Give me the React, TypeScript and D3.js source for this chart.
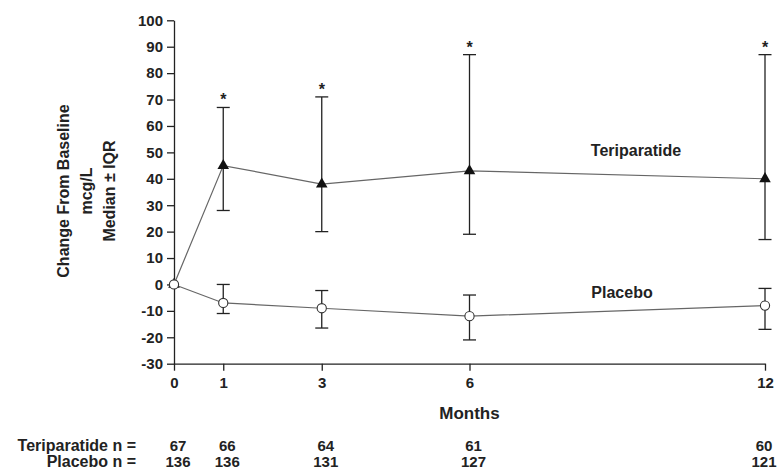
import { useRef, useEffect } from 'react';
import * as d3 from 'd3';

// Months of follow-up
const months = [0, 1, 3, 6, 12];

// Teriparatide: median and IQR (change from baseline, mcg/L)
const teriMedian = [0, 45, 38, 43, 40];
const teriLow = [null, 28, 20, 19, 17];
const teriHigh = [null, 67, 71, 87, 87];
const teriStar = [false, true, true, true, true];

// Placebo: median and IQR
const placeboMedian = [0, -7, -9, -12, -8];
const placeboLow = [null, -11, -16.5, -21, -17];
const placeboHigh = [null, 0, -2.3, -4, -1.5];

// Numbers of patients at each visit
const teriN = [67, 66, 64, 61, 60];
const placeboN = [136, 136, 131, 127, 121];

const yTicks = d3.range(-30, 101, 10);

const FONT = 'Arial, "Liberation Sans", Helvetica, sans-serif';

function App() {
    const svgRef = useRef<SVGSVGElement>(null);

    useEffect(() => {
        const width = 780;
        const height = 468;

        const x = d3.scaleLinear().domain([0, 12]).range([174, 765]);
        const y = d3.scaleLinear().domain([-30, 100]).range([363.7, 20.3]);

        const svg = d3.select(svgRef.current)
            .attr('width', width)
            .attr('height', height)
            .attr('viewBox', [0, 0, width, height].join(' '));

        svg.selectAll('*').remove();

        svg.append('rect').attr('width', width).attr('height', height).attr('fill', '#fff');

        //Axes (plain hyphen for negatives, as in the original)
        const yAxis = svg.append('g')
            .attr('transform', `translate(${x(0)},0)`)
            .call(d3.axisLeft(y).tickValues(yTicks).tickFormat(d => String(d))
                .tickSize(7).tickPadding(4).tickSizeOuter(0));

        const xAxis = svg.append('g')
            .attr('transform', `translate(0,${y(-30)})`)
            .call(d3.axisBottom(x).tickValues(months).tickFormat(d => String(d))
                .tickSize(7).tickPadding(7).tickSizeOuter(0));

        [yAxis, xAxis].forEach(a => {
            a.select('.domain').attr('stroke', '#222').attr('stroke-width', 1.3);
            a.selectAll('.tick line').attr('stroke', '#222').attr('stroke-width', 1.3);
            a.selectAll('.tick text')
                .attr('fill', '#222')
                .attr('font-family', FONT)
                .attr('font-weight', 'bold')
                .attr('font-size', 15);
        });

        //Axis titles
        svg.append('text')
            .attr('x', (x(0) + x(12)) / 2)
            .attr('y', 413)
            .attr('dominant-baseline', 'central')
            .attr('text-anchor', 'middle')
            .attr('font-family', FONT)
            .attr('font-weight', 'bold')
            .attr('font-size', 17)
            .attr('fill', '#222')
            .text('Months');

        const titleLines = ['Change From Baseline', 'mcg/L', 'Median ± IQR'];
        titleLines.forEach((t, i) => {
            svg.append('text')
                .attr('transform', `translate(${63 + i * 23},191) rotate(-90)`)
                .attr('dominant-baseline', 'central')
                .attr('text-anchor', 'middle')
                .attr('font-family', FONT)
                .attr('font-weight', 'bold')
                .attr('font-size', 16)
                .attr('fill', '#222')
                .text(t);
        });

        //Lines
        const line = d3.line<number>()
            .x((d, i) => x(months[i]))
            .y(d => y(d));

        svg.append('path')
            .datum(teriMedian)
            .attr('fill', 'none')
            .attr('stroke', '#666')
            .attr('stroke-width', 1.2)
            .attr('d', line);

        svg.append('path')
            .datum(placeboMedian)
            .attr('fill', 'none')
            .attr('stroke', '#666')
            .attr('stroke-width', 1.2)
            .attr('d', line);

        //Error bars
        const drawBars = (low: (number | null)[], high: (number | null)[]) => {
            months.forEach((m, i) => {
                const lo = low[i];
                const hi = high[i];
                if (lo === null || hi === null) return;
                const g = svg.append('g')
                    .attr('stroke', '#222')
                    .attr('stroke-width', 1.3);
                g.append('line').attr('x1', x(m)).attr('x2', x(m)).attr('y1', y(lo)).attr('y2', y(hi));
                g.append('line').attr('x1', x(m) - 6.5).attr('x2', x(m) + 6.5).attr('y1', y(lo)).attr('y2', y(lo));
                g.append('line').attr('x1', x(m) - 6.5).attr('x2', x(m) + 6.5).attr('y1', y(hi)).attr('y2', y(hi));
            });
        };
        drawBars(teriLow, teriHigh);
        drawBars(placeboLow, placeboHigh);

        //Significance stars
        months.forEach((m, i) => {
            const hi = teriHigh[i];
            if (!teriStar[i] || hi === null) return;
            svg.append('text')
                .attr('x', x(m))
                .attr('y', y(hi) - 2)
                .attr('text-anchor', 'middle')
                .attr('font-family', FONT)
                .attr('font-weight', 'bold')
                .attr('font-size', 16)
                .attr('fill', '#222')
                .text('*');
        });

        //Markers
        const tri = d3.symbol().type(d3.symbolTriangle).size(58);
        svg.append('g')
            .selectAll('path')
            .data(teriMedian)
            .join('path')
            .attr('transform', (d, i) => `translate(${x(months[i])},${y(d)})`)
            .attr('d', tri)
            .attr('fill', '#111');

        svg.append('g')
            .selectAll('circle')
            .data(placeboMedian)
            .join('circle')
            .attr('cx', (d, i) => x(months[i]))
            .attr('cy', d => y(d))
            .attr('r', 4.6)
            .attr('fill', '#fff')
            .attr('stroke', '#333')
            .attr('stroke-width', 1.1);

        //Series labels
        const label = (t: string, lx: number, ly: number) => svg.append('text')
            .attr('x', lx)
            .attr('y', ly)
            .attr('dominant-baseline', 'central')
            .attr('text-anchor', 'middle')
            .attr('font-family', FONT)
            .attr('font-weight', 'bold')
            .attr('font-size', 16)
            .attr('fill', '#222')
            .text(t);

        label('Teriparatide', 636, 150);
        label('Placebo', 622, 292);

        //Patient counts
        const rows: [string, number[], number][] = [
            ['Teriparatide n =', teriN, 445],
            ['Placebo n =', placeboN, 461]
        ];
        rows.forEach(([name, counts, ry]) => {
            svg.append('text')
                .attr('x', 136)
                .attr('y', ry)
                .attr('dominant-baseline', 'central')
                .attr('text-anchor', 'end')
                .attr('font-family', FONT)
                .attr('font-weight', 'bold')
                .attr('font-size', 16)
                .attr('fill', '#222')
                .text(name);
            counts.forEach((c, i) => {
                svg.append('text')
                    .attr('x', Math.min(x(months[i]) + 4, 764))
                    .attr('y', ry)
                    .attr('dominant-baseline', 'central')
                    .attr('text-anchor', 'middle')
                    .attr('font-family', FONT)
                    .attr('font-weight', 'bold')
                    .attr('font-size', 15)
                    .attr('fill', '#222')
                    .text(c);
            });
        });
    }, []);

    return (
        <svg
            ref={svgRef}
            style={{ position: 'absolute', left: 0, top: 0, display: 'block' }}
        />
    );
}

export default App;
